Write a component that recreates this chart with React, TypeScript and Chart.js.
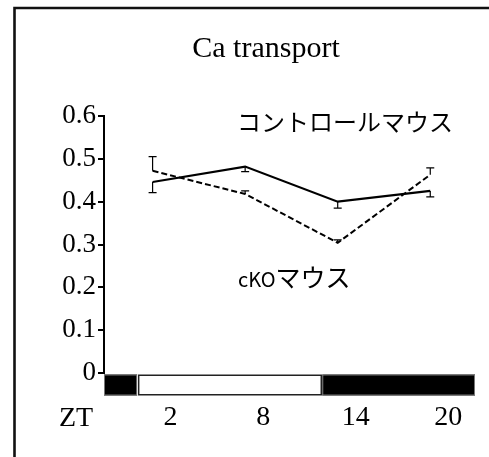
import React, { useEffect, useRef } from 'react';
import { Chart, registerables } from 'chart.js';

Chart.register(...registerables);

// ---- data ----
const sampleTimes = [2, 8, 14, 20];
const controlValues = [0.446, 0.482, 0.4, 0.425];
const controlErrors = [0.025, 0.012, 0.015, 0.014];
const ckoValues = [0.472, 0.418, 0.304, 0.463];
const ckoErrors = [0.033, 0.007, 0.007, 0.016];
const xTickValues = [2, 8, 14, 20];
const xTickLabels = ['2', '8', '14', '20'];
const yTickValues = [0, 0.1, 0.2, 0.3, 0.4, 0.5, 0.6];
const yTickLabels = ['0', '0.1', '0.2', '0.3', '0.4', '0.5', '0.6'];
const segmentStarts = [-1.15, 1, 13];
const segmentEnds = [1, 13, 22.9];
const segmentKinds = ['dark', 'light', 'dark'];
const titleText = 'Ca transport';
const xAxisName = 'ZT';
const controlLabel = 'コントロールマウス';
const ckoLabelLatin = 'cKO';
const ckoLabelKana = 'マウス';

const SERIF = '"Liberation Serif", "DejaVu Serif", serif';
const JP = '"Noto Sans CJK JP", "Noto Sans", sans-serif';

const decorPlugin = {
  id: 'decor',
  beforeDatasetsDraw(chart: any) {
    const { ctx, chartArea, scales } = chart;
    const xs = scales.x;
    const top = chartArea.bottom + 1.5;
    const h = 21;
    ctx.save();
    for (let i = 0; i < segmentStarts.length; i++) {
      const x0 = xs.getPixelForValue(segmentStarts[i]);
      const x1 = xs.getPixelForValue(segmentEnds[i]);
      if (segmentKinds[i] === 'dark') {
        ctx.fillStyle = '#000';
        ctx.fillRect(x0, top, x1 - x0, h);
        ctx.strokeStyle = '#777';
        ctx.lineWidth = 1;
        ctx.strokeRect(x0 + 0.5, top + 0.5, x1 - x0 - 1, h - 1);
      } else {
        ctx.fillStyle = '#fff';
        ctx.fillRect(x0, top, x1 - x0, h);
        ctx.strokeStyle = '#222';
        ctx.lineWidth = 1.5;
        ctx.strokeRect(x0 + 1.5, top + 0.75, x1 - x0 - 2.5, h - 1.5);
      }
    }
    ctx.restore();
  },
  afterDatasetsDraw(chart: any) {
    const { ctx, chartArea, scales } = chart;
    const xs = scales.x;
    const ys = scales.y;
    ctx.save();
    ctx.strokeStyle = '#000';
    ctx.lineWidth = 1.2;
    const drawErr = (vals: number[], errs: number[], dir: number) => {
      for (let i = 0; i < sampleTimes.length; i++) {
        const x = xs.getPixelForValue(sampleTimes[i]);
        const y0 = ys.getPixelForValue(vals[i]);
        const y1 = ys.getPixelForValue(vals[i] + dir * errs[i]);
        ctx.beginPath();
        ctx.moveTo(x, y0);
        ctx.lineTo(x, y1);
        ctx.moveTo(x - 4, y1);
        ctx.lineTo(x + 4, y1);
        ctx.stroke();
      }
    };
    drawErr(controlValues, controlErrors, -1);
    drawErr(ckoValues, ckoErrors, 1);

    // frame
    ctx.strokeStyle = '#111';
    ctx.lineWidth = 2.6;
    ctx.beginPath();
    ctx.moveTo(14.5, 470);
    ctx.lineTo(14.5, 8);
    ctx.lineTo(500, 8);
    ctx.stroke();

    // texts
    ctx.fillStyle = '#000';
    ctx.textBaseline = 'alphabetic';
    ctx.textAlign = 'center';
    ctx.font = `30px ${SERIF}`;
    ctx.fillText(titleText, 266, 57);
    ctx.font = `28px ${SERIF}`;
    ctx.fillText(xAxisName, 76, 426);

    ctx.textAlign = 'left';
    ctx.font = `24px ${JP}`;
    ctx.fillText(controlLabel, chartArea.left + 133, chartArea.top + 15);
    ctx.font = `20px ${JP}`;
    ctx.fillText(ckoLabelLatin, chartArea.left + 134, chartArea.top + 171);
    const w = ctx.measureText(ckoLabelLatin).width;
    ctx.font = `25px ${JP}`;
    ctx.fillText(ckoLabelKana, chartArea.left + 134 + w, chartArea.top + 171);
    ctx.restore();
  },
};

export default function App() {
  const ref = useRef<HTMLCanvasElement | null>(null);
  useEffect(() => {
    if (!ref.current) return;
    const chart = new Chart(ref.current, {
      type: 'line',
      data: {
        datasets: [
          {
            label: 'control',
            data: sampleTimes.map((t, i) => ({ x: t, y: controlValues[i] })),
            borderColor: '#000',
            borderWidth: 2.2,
            pointRadius: 0,
            tension: 0,
          },
          {
            label: 'cKO',
            data: sampleTimes.map((t, i) => ({ x: t, y: ckoValues[i] })),
            borderColor: '#000',
            borderWidth: 2,
            borderDash: [6, 3],
            pointRadius: 0,
            tension: 0,
          },
        ],
      },
      options: {
        responsive: false,
        animation: false,
        devicePixelRatio: 1,
        layout: { padding: { top: 116, right: 14, left: 0, bottom: 0 } },
        plugins: {
          legend: { display: false },
          title: { display: false },
          tooltip: { enabled: false },
        },
        scales: {
          x: {
            type: 'linear',
            min: segmentStarts[0],
            max: segmentEnds[segmentEnds.length - 1],
            grid: { display: false, drawTicks: false },
            border: { display: false },
            afterBuildTicks: (s: any) => {
              s.ticks = xTickValues.map((v) => ({ value: v }));
            },
            afterFit: (s: any) => {
              s.height = 84;
            },
            ticks: {
              autoSkip: false,
              maxRotation: 0,
              padding: 28,
              labelOffset: 18,
              color: '#000',
              font: { family: SERIF, size: 28 },
              callback: (v: any) => {
                const i = xTickValues.indexOf(v);
                return i >= 0 ? xTickLabels[i] : '';
              },
            },
          },
          y: {
            min: 0,
            max: 0.6,
            afterBuildTicks: (s: any) => {
              s.ticks = yTickValues.map((v) => ({ value: v }));
            },
            afterFit: (s: any) => {
              s.width = 104;
            },
            grid: {
              display: true,
              drawOnChartArea: false,
              drawTicks: true,
              tickLength: 6,
              color: '#000',
              lineWidth: 2,
            },
            border: { display: true, color: '#000', width: 2 },
            ticks: {
              padding: 2,
              color: '#000',
              font: { family: SERIF, size: 27 },
              callback: (v: any) => {
                const i = yTickValues.findIndex((t) => Math.abs(t - v) < 1e-9);
                return i >= 0 ? yTickLabels[i] : '';
              },
            },
          },
        },
      } as any,
      plugins: [decorPlugin],
    });
    return () => chart.destroy();
  }, []);
  return (
    <div style={{ position: 'absolute', left: 0, top: 0, width: 489, height: 457, background: '#fff' }}>
      <canvas ref={ref} width={489} height={457} style={{ display: 'block', width: 489, height: 457 }} />
    </div>
  );
}
